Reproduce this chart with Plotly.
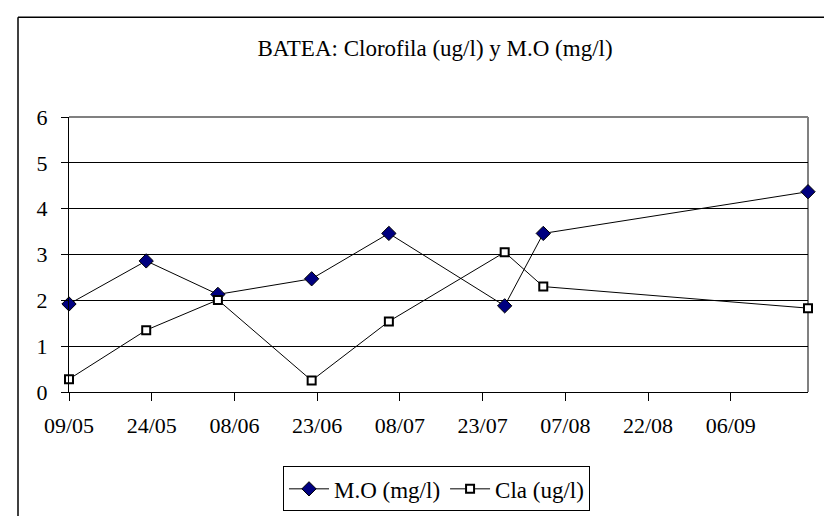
import plotly.graph_objects as go

dates = ["2005-05-09", "2005-05-23", "2005-06-05", "2005-06-22",
         "2005-07-06", "2005-07-27", "2005-08-03", "2005-09-20"]
mo = [1.92, 2.86, 2.13, 2.47, 3.46, 1.88, 3.46, 4.37]
cla = [0.28, 1.35, 2.01, 0.25, 1.54, 3.05, 2.30, 1.83]

tick_dates = ["2005-05-09", "2005-05-24", "2005-06-08", "2005-06-23", "2005-07-08",
              "2005-07-23", "2005-08-07", "2005-08-22", "2005-09-06"]
tick_labels = ["09/05", "24/05", "08/06", "23/06", "08/07", "23/07", "07/08", "22/08", "06/09"]
y_ticks = [0, 1, 2, 3, 4, 5, 6]

FONT = "'Times New Roman', 'Liberation Serif', serif"

fig = go.Figure()
fig.add_trace(go.Scatter(
    x=dates, y=mo, name="M.O (mg/l)", mode="lines+markers",
    line=dict(color="black", width=1),
    marker=dict(symbol="diamond", size=11, color="#000080", line=dict(color="black", width=1)),
    cliponaxis=False,
))
fig.add_trace(go.Scatter(
    x=dates, y=cla, name="Cla (ug/l)", mode="lines+markers",
    line=dict(color="black", width=1),
    marker=dict(symbol="square", size=8, color="white", line=dict(color="black", width=2)),
    cliponaxis=False,
))

L, R, T, B = 61, 32, 109, 126
W, H = 832, 516
pw, ph = W - L - R, H - T - B

fig.update_layout(
    width=W, height=H,
    margin=dict(l=L, r=R, t=T, b=B),
    paper_bgcolor="white", plot_bgcolor="white",
    font=dict(family=FONT, color="black", size=22),
    title=dict(text="BATEA: Clorofila (ug/l) y M.O (mg/l)", x=(427) / W, xanchor="center",
               y=1 - 40 / H, yanchor="middle", yref="container",
               font=dict(family=FONT, size=23, color="black")),
    showlegend=True,
    legend=dict(orientation="h", x=(428.5 - L) / pw, xanchor="center",
                y=(H - B - 489) / ph, yanchor="middle",
                bordercolor="black", borderwidth=1, bgcolor="white",
                font=dict(family=FONT, size=23, color="black"),
                itemwidth=40, tracegroupgap=0),
    xaxis=dict(type="date", range=["2005-05-09", "2005-09-20"],
               tickvals=tick_dates, ticktext=tick_labels,
               showgrid=False, zeroline=False,
               showline=True, linecolor="black", linewidth=1,
               ticks="outside", ticklen=8, tickcolor="black", tickwidth=1,
               ticklabelstandoff=6,
               tickfont=dict(family=FONT, size=22, color="black")),
    yaxis=dict(range=[0, 6], tickvals=y_ticks,
               showgrid=True, gridcolor="black", gridwidth=1, zeroline=False,
               showline=True, linecolor="black", linewidth=1,
               ticks="outside", ticklen=7, tickcolor="black", tickwidth=1,
               ticklabelstandoff=9,
               tickfont=dict(family=FONT, size=22, color="black")),
    shapes=[
        dict(type="line", xref="paper", yref="paper", x0=0, x1=1, y0=1, y1=1,
             line=dict(color="#808080", width=2), layer="between"),
        dict(type="line", xref="paper", yref="paper", x0=1, x1=1, y0=0, y1=1,
             line=dict(color="#808080", width=2), layer="between"),
        dict(type="line", xref="paper", yref="paper",
             x0=(10 - L) / pw, x1=(10 - L) / pw, y0=(H - B - 7) / ph, y1=(H - B - 520) / ph,
             line=dict(color="black", width=1.5), layer="above"),
        dict(type="line", xref="paper", yref="paper",
             x0=(10 - L) / pw, x1=(840 - L) / pw, y0=(H - B - 7) / ph, y1=(H - B - 7) / ph,
             line=dict(color="black", width=1.5), layer="above"),
    ],
)

fig.write_html("out.html")
